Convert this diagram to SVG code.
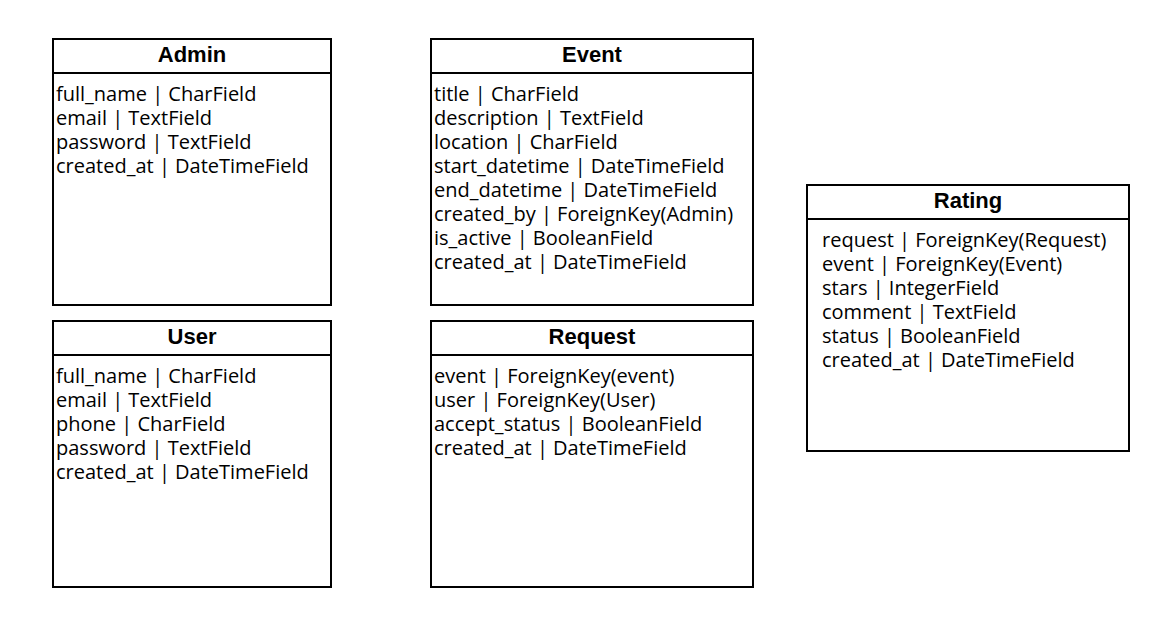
<svg xmlns="http://www.w3.org/2000/svg" width="1172" height="628" viewBox="0 0 1172 628">
<style>
.box{fill:#fff;stroke:#000;stroke-width:2}
.sep{stroke:#000;stroke-width:2}
.t{font-family:"Liberation Sans",Arial,sans-serif;font-weight:bold;font-size:22px;text-anchor:middle;fill:#000}
.f{font-family:"Open Sans","Noto Sans",sans-serif;font-size:20px;fill:#000}
</style>
<rect width="1172" height="628" fill="#fff"/>
<g id="connectors"></g>
<g id="admin">
<rect class="box" x="53" y="39" width="278" height="266"/>
<line class="sep" x1="53" y1="73" x2="331" y2="73"/>
<text class="t" x="192" y="62">Admin</text>
<text class="f" x="56" y="101">full_name | CharField</text>
<text class="f" x="56" y="125">email | TextField</text>
<text class="f" x="56" y="149">password | TextField</text>
<text class="f" x="56" y="173">created_at | DateTimeField</text>
</g>
<g id="event">
<rect class="box" x="431" y="39" width="322" height="266"/>
<line class="sep" x1="431" y1="73" x2="753" y2="73"/>
<text class="t" x="592" y="62">Event</text>
<text class="f" x="434" y="101">title | CharField</text>
<text class="f" x="434" y="125">description | TextField</text>
<text class="f" x="434" y="149">location | CharField</text>
<text class="f" x="434" y="173">start_datetime | DateTimeField</text>
<text class="f" x="434" y="197">end_datetime | DateTimeField</text>
<text class="f" x="434" y="221">created_by | ForeignKey(Admin)</text>
<text class="f" x="434" y="245">is_active | BooleanField</text>
<text class="f" x="434" y="269">created_at | DateTimeField</text>
</g>
<g id="user">
<rect class="box" x="53" y="321" width="278" height="266"/>
<line class="sep" x1="53" y1="355" x2="331" y2="355"/>
<text class="t" x="192" y="344">User</text>
<text class="f" x="56" y="383">full_name | CharField</text>
<text class="f" x="56" y="407">email | TextField</text>
<text class="f" x="56" y="431">phone | CharField</text>
<text class="f" x="56" y="455">password | TextField</text>
<text class="f" x="56" y="479">created_at | DateTimeField</text>
</g>
<g id="request">
<rect class="box" x="431" y="321" width="322" height="266"/>
<line class="sep" x1="431" y1="355" x2="753" y2="355"/>
<text class="t" x="592" y="344">Request</text>
<text class="f" x="434" y="383">event | ForeignKey(event)</text>
<text class="f" x="434" y="407">user | ForeignKey(User)</text>
<text class="f" x="434" y="431">accept_status | BooleanField</text>
<text class="f" x="434" y="455">created_at | DateTimeField</text>
</g>
<g id="rating">
<rect class="box" x="807" y="185" width="322" height="266"/>
<line class="sep" x1="807" y1="219" x2="1129" y2="219"/>
<text class="t" x="968" y="208">Rating</text>
<text class="f" x="822" y="247">request | ForeignKey(Request)</text>
<text class="f" x="822" y="271">event | ForeignKey(Event)</text>
<text class="f" x="822" y="295">stars | IntegerField</text>
<text class="f" x="822" y="319">comment | TextField</text>
<text class="f" x="822" y="343">status | BooleanField</text>
<text class="f" x="822" y="367">created_at | DateTimeField</text>
</g>
</svg>
